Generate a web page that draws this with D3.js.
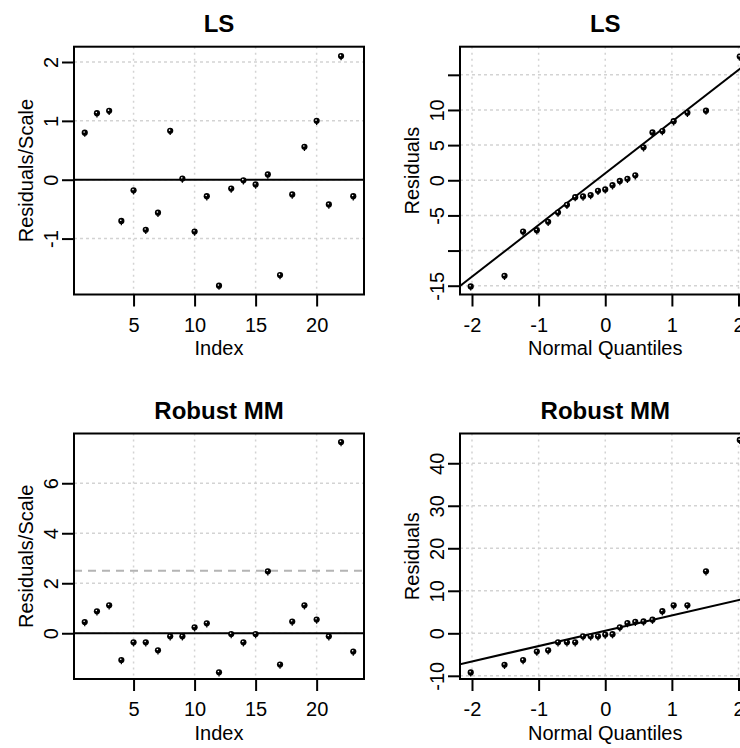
<!DOCTYPE html>
<html>
<head>
<meta charset="utf-8">
<script src="https://cdn.jsdelivr.net/npm/d3@7"></script>
<style>
  html, body { margin: 0; padding: 0; overflow: hidden; background: #fff; }
  text { font-family: "Liberation Sans", Arial, sans-serif; }
</style>
</head>
<body>
<div id="chart"></div>
<script>
// observation index
var obsIndex = [1,2,3,4,5,6,7,8,9,10,11,12,13,14,15,16,17,18,19,20,21,22,23];

// standardized residuals
var lsScaled = [0.80, 1.13, 1.17, -0.70, -0.18, -0.85, -0.56, 0.83, 0.02, -0.88, -0.28, -1.80,
                -0.15, -0.01, -0.08, 0.09, -1.62, -0.25, 0.56, 1.00, -0.42, 2.10, -0.28];
var mmScaled = [0.45, 0.88, 1.12, -1.07, -0.36, -0.36, -0.68, -0.12, -0.12, 0.24, 0.40, -1.56,
                -0.03, -0.36, -0.03, 2.48, -1.25, 0.47, 1.12, 0.55, -0.12, 7.65, -0.73];

// normal quantiles (x of the qq plots) and sorted residuals (y)
var normalQuantiles = [-2.019, -1.512, -1.233, -1.027, -0.857, -0.709, -0.575, -0.451, -0.333, -0.219, -0.109, 0,
                       0.109, 0.219, 0.333, 0.451, 0.575, 0.709, 0.857, 1.027, 1.233, 1.512, 2.019];
var lsResidSorted = [-15.1, -13.6, -7.3, -7.1, -5.9, -4.6, -3.5, -2.4, -2.3, -2.1, -1.5, -1.3,
                     -0.7, -0.1, 0.2, 0.7, 4.7, 6.8, 7.0, 8.4, 9.6, 9.9, 17.6];
var mmResidSorted = [-9.2, -7.4, -6.3, -4.3, -4.0, -2.1, -2.1, -2.1, -0.7, -0.7, -0.7, -0.3,
                     -0.2, 1.4, 2.4, 2.7, 2.8, 3.2, 5.2, 6.6, 6.6, 14.6, 45.5];

// qq reference lines
var lsLine = {intercept: 0.99, slope: 7.35};
var mmLine = {intercept: 0.61, slope: 3.61};
var mmCutoff = 2.5;

// ticks
var indexTicks = [5, 10, 15, 20];
var quantTicks = [-2, -1, 0, 1, 2];
var lsScaledTicks = [-1, 0, 1, 2];
var lsResidTicks = [-15, -10, -5, 0, 5, 10, 15];
var lsResidLabels = [-15, -5, 0, 5, 10];
var mmScaledTicks = [0, 2, 4, 6];
var mmResidTicks = [-10, 0, 10, 20, 30, 40];

var svg = d3.select("#chart")
    .append("svg")
    .attr("width", 770)
    .attr("height", 748);

var panels = [
  {title: "LS", xlab: "Index", ylab: "Residuals/Scale",
   left: 74, top: 46.7, width: 290, height: 247.8,
   xdom: [0.12, 23.88], ydom: [-1.95, 2.26],
   xs: obsIndex, ys: lsScaled, xticks: indexTicks, yticks: lsScaledTicks, zero: true},
  {title: "LS", xlab: "Normal Quantiles", ylab: "Residuals",
   left: 460, top: 46.7, width: 290.5, height: 247.8,
   xdom: [-2.18, 2.18], ydom: [-16.25, 19.0],
   xs: normalQuantiles, ys: lsResidSorted, xticks: quantTicks, yticks: lsResidTicks,
   ylabels: lsResidLabels, line: lsLine},
  {title: "Robust MM", xlab: "Index", ylab: "Residuals/Scale",
   left: 74, top: 433.5, width: 290, height: 245.5,
   xdom: [0.12, 23.88], ydom: [-1.83, 7.99],
   xs: obsIndex, ys: mmScaled, xticks: indexTicks, yticks: mmScaledTicks, zero: true, cutoff: mmCutoff},
  {title: "Robust MM", xlab: "Normal Quantiles", ylab: "Residuals",
   left: 460, top: 433.5, width: 290.5, height: 245.5,
   xdom: [-2.18, 2.18], ydom: [-10.75, 47.0],
   xs: normalQuantiles, ys: mmResidSorted, xticks: quantTicks, yticks: mmResidTicks, line: mmLine}
];

panels.forEach(function(p, i) {
  var x = d3.scaleLinear().domain(p.xdom).range([0, p.width]);
  var y = d3.scaleLinear().domain(p.ydom).range([p.height, 0]);

  var g = svg.append("g")
      .attr("transform", "translate(" + p.left + "," + p.top + ")");

  g.append("clipPath").attr("id", "clip" + i)
    .append("rect").attr("width", p.width).attr("height", p.height);

  // grid
  g.selectAll(".vgrid").data(p.xticks).enter().append("line")
    .attr("x1", function(d) { return x(d); }).attr("x2", function(d) { return x(d); })
    .attr("y1", 0).attr("y2", p.height)
    .attr("stroke", "#d3d3d3").attr("stroke-width", 1.5)
    .attr("stroke-dasharray", "2,4");
  g.selectAll(".hgrid").data(p.yticks).enter().append("line")
    .attr("x1", 0).attr("x2", p.width)
    .attr("y1", function(d) { return y(d); }).attr("y2", function(d) { return y(d); })
    .attr("stroke", "#d3d3d3").attr("stroke-width", 1.5)
    .attr("stroke-dasharray", "3,3");

  var inner = g.append("g").attr("clip-path", "url(#clip" + i + ")");

  if (p.cutoff !== undefined) {
    inner.append("line")
      .attr("x1", 0).attr("x2", p.width)
      .attr("y1", y(p.cutoff)).attr("y2", y(p.cutoff))
      .attr("stroke", "#b4b4b4").attr("stroke-width", 2)
      .attr("stroke-dasharray", "8,6");
  }
  if (p.zero) {
    inner.append("line")
      .attr("x1", 0).attr("x2", p.width)
      .attr("y1", y(0)).attr("y2", y(0))
      .attr("stroke", "#000").attr("stroke-width", 2);
  }
  if (p.line) {
    inner.append("line")
      .attr("x1", 0).attr("x2", p.width)
      .attr("y1", y(p.line.intercept + p.line.slope * p.xdom[0]))
      .attr("y2", y(p.line.intercept + p.line.slope * p.xdom[1]))
      .attr("stroke", "#000").attr("stroke-width", 2);
  }

  // points
  var pts = inner.selectAll(".pt").data(p.ys).enter().append("g")
    .attr("transform", function(d, j) { return "translate(" + x(p.xs[j]) + "," + y(d) + ")"; });
  pts.append("circle").attr("r", 3.1).attr("fill", "#000");
  pts.append("circle").attr("r", 0.8).attr("cx", -0.6).attr("cy", -0.7).attr("fill", "#fff");
  pts.append("line").attr("x1", 0).attr("x2", 0).attr("y1", 2).attr("y2", 4.2)
    .attr("stroke", "#000").attr("stroke-width", 1.3);

  // box
  g.append("rect")
    .attr("width", p.width).attr("height", p.height)
    .attr("fill", "none").attr("stroke", "#000").attr("stroke-width", 2);

  // x axis
  var xa = g.append("g")
    .attr("transform", "translate(0," + p.height + ")")
    .call(d3.axisBottom(x).tickValues(p.xticks).tickSize(12).tickFormat(d3.format("d")));
  xa.select(".domain").remove();
  xa.selectAll("line").attr("stroke-width", 2);
  xa.selectAll("text")
    .attr("y", 37).attr("dy", null)
    .attr("fill", "#000")
    .style("font-size", "20px")
    .style("font-family", "Liberation Sans, Arial, sans-serif")
    .text(function(d) { return String(d); });

  // y axis
  var labels = p.ylabels || p.yticks;
  var ya = g.append("g")
    .call(d3.axisLeft(y).tickValues(p.yticks).tickSize(12)
      .tickFormat(function(d) { return labels.indexOf(d) >= 0 ? String(d) : ""; }));
  ya.select(".domain").remove();
  ya.selectAll("line").attr("stroke-width", 2);
  ya.selectAll("text")
    .attr("x", null).attr("dy", null)
    .attr("text-anchor", "middle")
    .attr("transform", "translate(-16,0) rotate(-90)")
    .attr("fill", "#000")
    .style("font-size", "20px")
    .style("font-family", "Liberation Sans, Arial, sans-serif");

  // labels
  g.append("text")
    .attr("x", p.width / 2).attr("y", p.height + 61)
    .attr("text-anchor", "middle")
    .style("font-size", "20px")
    .text(p.xlab);
  g.append("text")
    .attr("transform", "translate(-41," + (p.height / 2) + ") rotate(-90)")
    .attr("text-anchor", "middle")
    .style("font-size", "20px")
    .text(p.ylab);
  g.append("text")
    .attr("x", p.width / 2).attr("y", -15)
    .attr("text-anchor", "middle")
    .style("font-size", "24px")
    .style("font-weight", "bold")
    .text(p.title);
});
</script>
</body>
</html>
